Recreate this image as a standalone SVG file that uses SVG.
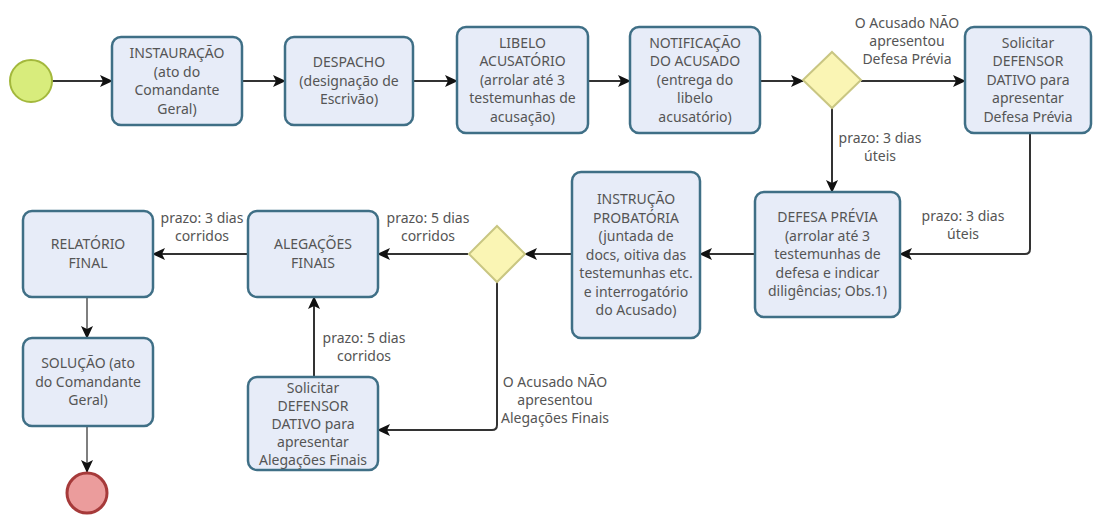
<svg xmlns="http://www.w3.org/2000/svg" width="1093" height="515" viewBox="0 0 1093 515">
<style>
.box{fill:#e7ecf8;stroke:#3f6f86;stroke-width:2.5}
.gw{fill:#faf5b4;stroke:#c9c682;stroke-width:2}
.t{font-family:"Noto Sans","Open Sans",sans-serif;font-size:14px;fill:#555;text-anchor:middle}
.c{fill:none;stroke:#333;stroke-width:2}
.c2{fill:none;stroke:#555;stroke-width:1.5}
</style>
<defs>
<marker id="ah" markerUnits="userSpaceOnUse" markerWidth="14" markerHeight="12" refX="12" refY="6" orient="auto">
<path d="M0,0 L13,6 L0,12 L3,6 z" fill="#111"/>
</marker>
</defs>
<rect width="1093" height="515" fill="#fff"/>
<g id="connectors">
<path class="c" d="M52,81 H112" marker-end="url(#ah)"/>
<path class="c" d="M242,81 H285" marker-end="url(#ah)"/>
<path class="c" d="M413,81 H457" marker-end="url(#ah)"/>
<path class="c" d="M588,81 H630" marker-end="url(#ah)"/>
<path class="c" d="M760,81 H803" marker-end="url(#ah)"/>
<path class="c" d="M861,81 H965" marker-end="url(#ah)"/>
<path class="c" d="M832,108 V192" marker-end="url(#ah)"/>
<path class="c" d="M1030,133 V249 Q1030,254 1025,254 H900" marker-end="url(#ah)"/>
<path class="c" d="M755,254 H700" marker-end="url(#ah)"/>
<path class="c" d="M572,254 H525" marker-end="url(#ah)"/>
<path class="c" d="M468,254 H378" marker-end="url(#ah)"/>
<path class="c" d="M248,254 H153" marker-end="url(#ah)"/>
<path class="c2" d="M87,297 V338" marker-end="url(#ah)"/>
<path class="c2" d="M87,426 V472" marker-end="url(#ah)"/>
<path class="c" d="M497,282 V425 Q497,430 492,430 H378" marker-end="url(#ah)"/>
<path class="c" d="M314,377 V297" marker-end="url(#ah)"/>
<text class="t"><tspan x="907" y="28">O Acusado NÃO</tspan><tspan x="907" y="46">apresentou</tspan><tspan x="907" y="64">Defesa Prévia</tspan></text>
<text class="t"><tspan x="880" y="143">prazo: 3 dias</tspan><tspan x="880" y="161">úteis</tspan></text>
<text class="t"><tspan x="963" y="221">prazo: 3 dias</tspan><tspan x="963" y="239">úteis</tspan></text>
<text class="t"><tspan x="428" y="223">prazo: 5 dias</tspan><tspan x="428" y="241">corridos</tspan></text>
<text class="t"><tspan x="202" y="223">prazo: 3 dias</tspan><tspan x="202" y="241">corridos</tspan></text>
<text class="t"><tspan x="364" y="343">prazo: 5 dias</tspan><tspan x="364" y="361">corridos</tspan></text>
<text class="t"><tspan x="555" y="387">O Acusado NÃO</tspan><tspan x="555" y="405">apresentou</tspan><tspan x="555" y="423">Alegações Finais</tspan></text>
</g>
<g id="start"><circle cx="31" cy="81" r="21" fill="#d8ec7c" stroke="#a3b83c" stroke-width="2"/></g>
<g id="instauracao"><rect class="box" x="112" y="37" width="130" height="88" rx="9"/>
<text class="t"><tspan x="177" y="58">INSTAURAÇÃO</tspan><tspan x="177" y="76.5">(ato do</tspan><tspan x="177" y="95">Comandante</tspan><tspan x="177" y="113.5">Geral)</tspan></text></g>
<g id="despacho"><rect class="box" x="285" y="37" width="128" height="88" rx="9"/>
<text class="t"><tspan x="349" y="67">DESPACHO</tspan><tspan x="349" y="85.5">(designação de</tspan><tspan x="349" y="104">Escrivão)</tspan></text></g>
<g id="libelo"><rect class="box" x="457" y="27" width="131" height="106" rx="9"/>
<text class="t"><tspan x="522.5" y="47.5">LIBELO</tspan><tspan x="522.5" y="66">ACUSATÓRIO</tspan><tspan x="522.5" y="84.5">(arrolar até 3</tspan><tspan x="522.5" y="103">testemunhas de</tspan><tspan x="522.5" y="121.5">acusação)</tspan></text></g>
<g id="notificacao"><rect class="box" x="630" y="27" width="130" height="106" rx="9"/>
<text class="t"><tspan x="695" y="47.5">NOTIFICAÇÃO</tspan><tspan x="695" y="66">DO ACUSADO</tspan><tspan x="695" y="84.5">(entrega do</tspan><tspan x="695" y="103">libelo</tspan><tspan x="695" y="121.5">acusatório)</tspan></text></g>
<g id="gateway1"><path class="gw" d="M832,52 L861,80 L832,108 L803,80 z"/></g>
<g id="solicitar-defesa"><rect class="box" x="965" y="27" width="126" height="106" rx="9"/>
<text class="t"><tspan x="1028" y="47.5">Solicitar</tspan><tspan x="1028" y="66">DEFENSOR</tspan><tspan x="1028" y="84.5">DATIVO para</tspan><tspan x="1028" y="103">apresentar</tspan><tspan x="1028" y="121.5">Defesa Prévia</tspan></text></g>
<g id="defesa-previa"><rect class="box" x="755" y="192" width="145" height="125" rx="9"/>
<text class="t"><tspan x="827.5" y="222">DEFESA PRÉVIA</tspan><tspan x="827.5" y="240.5">(arrolar até 3</tspan><tspan x="827.5" y="259">testemunhas de</tspan><tspan x="827.5" y="277.5">defesa e indicar</tspan><tspan x="827.5" y="296">diligências; Obs.1)</tspan></text></g>
<g id="instrucao"><rect class="box" x="572" y="172" width="128" height="166" rx="9"/>
<text class="t"><tspan x="636" y="204">INSTRUÇÃO</tspan><tspan x="636" y="222.5">PROBATÓRIA</tspan><tspan x="636" y="241">(juntada de</tspan><tspan x="636" y="259.5">docs, oitiva das</tspan><tspan x="636" y="278">testemunhas etc.</tspan><tspan x="636" y="296.5">e interrogatório</tspan><tspan x="636" y="315">do Acusado)</tspan></text></g>
<g id="gateway2"><path class="gw" d="M497,226 L525,254 L497,282 L469,254 z"/></g>
<g id="alegacoes"><rect class="box" x="248" y="211" width="130" height="86" rx="9"/>
<text class="t"><tspan x="313" y="249">ALEGAÇÕES</tspan><tspan x="313" y="268">FINAIS</tspan></text></g>
<g id="relatorio"><rect class="box" x="23" y="211" width="130" height="86" rx="9"/>
<text class="t"><tspan x="88" y="249">RELATÓRIO</tspan><tspan x="88" y="268">FINAL</tspan></text></g>
<g id="solucao"><rect class="box" x="23" y="338" width="130" height="88" rx="9"/>
<text class="t"><tspan x="88" y="368">SOLUÇÃO (ato</tspan><tspan x="88" y="386.5">do Comandante</tspan><tspan x="88" y="405">Geral)</tspan></text></g>
<g id="solicitar-alegacoes"><rect class="box" x="248" y="377" width="130" height="93" rx="9"/>
<text class="t"><tspan x="313" y="393">Solicitar</tspan><tspan x="313" y="411">DEFENSOR</tspan><tspan x="313" y="429">DATIVO para</tspan><tspan x="313" y="447">apresentar</tspan><tspan x="313" y="465">Alegações Finais</tspan></text></g>
<g id="end"><circle cx="87" cy="493" r="20" fill="#eb9c9c" stroke="#a63a3a" stroke-width="3"/></g>
</svg>
